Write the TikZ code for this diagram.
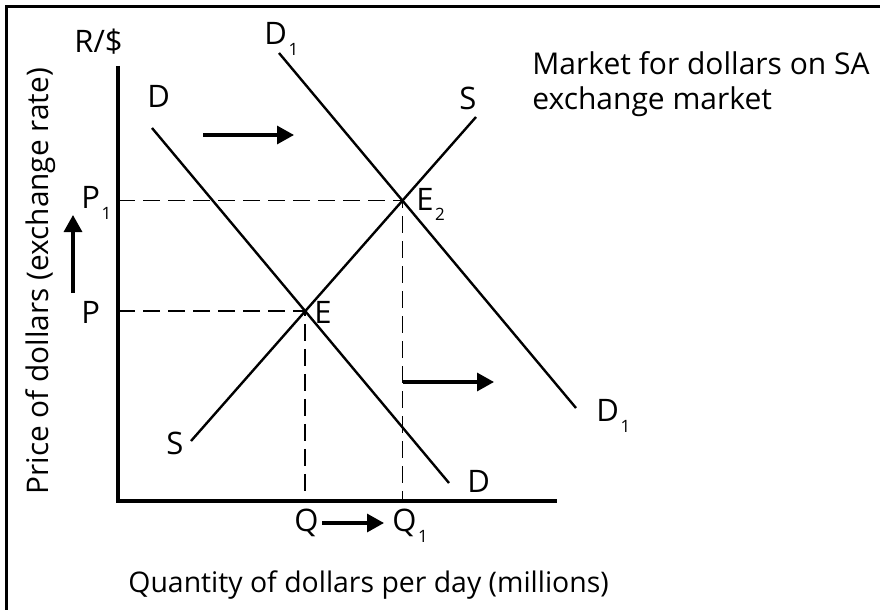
\documentclass[tikz,border=0pt]{standalone}
\usepackage{fontspec}
\setmainfont{Open Sans}
\usepackage{tikz}
\usetikzlibrary{arrows.meta}
\newcommand{\subidx}[1]{\hspace{0.8pt}\raisebox{-5.5pt}{\fontsize{8.5}{9}\selectfont #1}}

\begin{document}
\begin{tikzpicture}[
    x=0.5pt, y=-0.5pt,
    axis/.style={line width=2pt},
    curve/.style={line width=1.2pt},
    guide/.style={line width=0.9pt, dash pattern=on 8.5pt off 4pt},
    shiftarrow/.style={line width=1.6pt, -{Triangle[length=8.5pt, width=9pt]}},
    lbl/.style={font=\fontsize{15.5}{16}\selectfont, inner sep=0pt, anchor=base west},
    bigger/.style={font=\fontsize{#1}{#1}\selectfont},
]
\useasboundingbox (0,0) rectangle (883,610);
% frame (top and left only)
\draw[line width=1.5pt] (6.5,610) -- (6.5,6.5) -- (880,6.5);

% axes
\coordinate (origin) at (118,501);
\coordinate (ytop) at (118,66);
\coordinate (xend) at (557,501);
\draw[axis] (ytop) -- (origin) -- (xend);

% demand, new demand, supply
\coordinate (dtop) at (152,128);
\coordinate (dbot) at (449,483);
\coordinate (d1top) at (279,53);
\coordinate (d1bot) at (576,408);
\coordinate (sbot) at (191,441);
\coordinate (stop) at (476,117);
\draw[curve] (dtop) -- (dbot);
\draw[curve] (d1top) -- (d1bot);
\draw[curve] (sbot) -- (stop);

\coordinate (E) at (intersection of dtop--dbot and sbot--stop);
\coordinate (E2) at (intersection of d1top--d1bot and sbot--stop);

% guides to the axes
\draw[guide] (origin |- E) -- (E) -- (E |- origin);
\draw[guide] (origin |- E2) -- (E2) -- (E2 |- origin);

% shift arrows
\coordinate (dshiftA) at (203,135);
\coordinate (dshiftB) at (294,135);
\coordinate (pshiftA) at (73,293);
\coordinate (pshiftB) at (73,215);
\coordinate (qshiftA) at (322,523);
\coordinate (qshiftB) at (384,523);
\coordinate (rshiftA) at (403,382);
\coordinate (rshiftB) at (494,382);
\draw[shiftarrow] (dshiftA) -- (dshiftB);
\draw[shiftarrow] (pshiftA) -- (pshiftB);
\draw[shiftarrow] (qshiftA) -- (qshiftB);
\draw[shiftarrow] (rshiftA) -- (rshiftB);

% labels
\node[lbl] (rlab) at (74,53) {R/\$};
\node[lbl] (dlab) at (147,108) {D};
\node[lbl] (d1lab) at (264,45) {D\subidx{1}};
\node[lbl] (slab) at (459,110) {S};
\node[lbl, bigger=15] (title) at (532,75) {Market for dollars on SA};
\node[lbl, bigger=15] (titlelow) at (532,110) {exchange market};
\node[lbl] (e2lab) at (416,210) {E\subidx{2}};
\node[lbl] (elab) at (314,323) {E};
\node[lbl] (p1lab) at (81,208) {P\subidx{1}};
\node[lbl] (plab) at (81,323) {P};
\node[lbl] (sbotlab) at (166,454) {S};
\node[lbl] (qlab) at (294,531) {Q};
\node[lbl] (q1lab) at (392,531) {Q\subidx{1}};
\node[lbl] (dbotlab) at (467,492) {D};
\node[lbl] (d1botlab) at (596,421) {D\subidx{1}};
\node[lbl, bigger=14.2] (xlab) at (128,592) {Quantity of dollars per day (millions)};
\node[lbl, bigger=14.9, rotate=90] (ylab) at (48,495) {Price of dollars (exchange rate)};
\end{tikzpicture}
\end{document}
